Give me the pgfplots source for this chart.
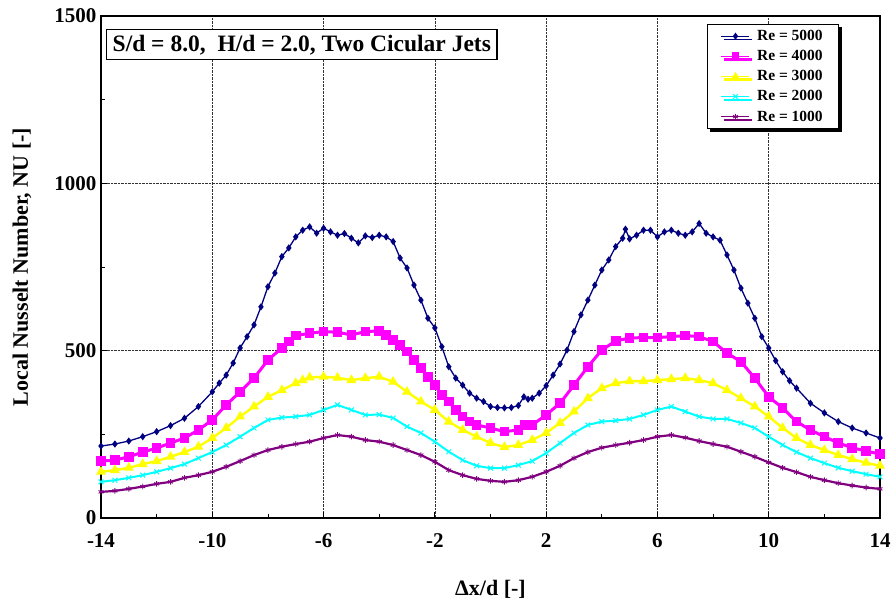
\documentclass[border=0pt]{standalone}
\usepackage{fontspec}
\setmainfont{Liberation Serif}
\usepackage{pgfplots}
\pgfplotsset{compat=1.18}
\usetikzlibrary{shadows}

\definecolor{navy}{RGB}{0,0,128}
\definecolor{mag}{RGB}{255,0,255}
\definecolor{yel}{RGB}{255,255,0}
\definecolor{cya}{RGB}{0,255,255}
\definecolor{pur}{RGB}{128,0,128}

\begin{document}
\begin{tikzpicture}
\begin{axis}[
  at={(0pt,0pt)}, anchor=south west,
  scale only axis, width=779pt, height=502pt,
  xmin=-14, xmax=14, ymin=0, ymax=1500,
  xtick={-14,-10,-6,-2,2,6,10,14}, minor xtick={-12,-8,-4,0,4,8,12},
  ytick={0,500,1000,1500}, minor ytick={250,750,1250},
  tick pos=left, tick align=inside,
  major tick length=6pt, minor tick length=4pt,
  xmajorgrids, ymajorgrids,
  grid style={black!80, densely dotted, line width=0.7pt},
  axis line style={line width=2pt},
  every tick/.style={black, line width=0.8pt},
  tick label style={font=\fontsize{21}{24}\selectfont\bfseries},
  /pgf/number format/assume math mode=true,
  /pgf/number format/1000 sep={},
  scaled y ticks=false,
  xticklabel style={yshift=-12pt},
  yticklabel style={xshift=-1pt},
  xlabel={Δx/d [-]}, ylabel={Local Nusselt Number, NU [-]},
  label style={font=\fontsize{22}{26}\selectfont\bfseries},
  xlabel style={at={(axis description cs:0.5,-0.143)}, anchor=center},
  ylabel style={at={(axis description cs:-0.1014,0.5)}, anchor=center},
  legend cell align=left,
  legend style={at={(0.9474,0.984)}, anchor=north east,
    draw=black, line width=0.6pt, fill=white,
    drop shadow={shadow xshift=3pt, shadow yshift=-3pt, fill=black, opacity=1},
    font=\fontsize{15.5}{17}\selectfont\bfseries,
    inner xsep=14pt, inner ysep=4pt, row sep=4.3pt, column sep=5pt},
  legend image code/.code={\draw[line width=1.2pt, mark repeat=2,mark phase=2] plot coordinates {(0pt,0pt) (14pt,0pt) (28pt,0pt)};},
]
\addplot[navy, line width=1.3pt, mark=diamond*, mark size=2.6pt, mark options={solid}] coordinates {
(-14,215) (-13.5,221) (-13,230) (-12.5,243) (-12,258) (-11.5,276) (-11,298) (-10.5,333)
(-10,377) (-9.75,403) (-9.5,427) (-9.25,463) (-9,508) (-8.75,542) (-8.5,577) (-8.25,631)
(-8,691) (-7.75,732) (-7.5,781) (-7.25,807) (-7,840) (-6.75,860) (-6.5,870) (-6.25,851)
(-6,866) (-5.75,855) (-5.5,845) (-5.25,850) (-5,836) (-4.75,822) (-4.5,843) (-4.25,838)
(-4,845) (-3.75,840) (-3.5,826) (-3.25,777) (-3,747) (-2.75,696) (-2.5,651) (-2.25,597)
(-2,568) (-1.75,512) (-1.5,452) (-1.25,418) (-1,397) (-0.75,373) (-0.5,358) (-0.25,348)
(0,333) (0.25,330) (0.5,329) (0.75,330) (1,336) (1.2,362) (1.35,355) (1.5,358)
(1.75,373) (2,395) (2.25,427) (2.5,460) (2.75,502) (3,557) (3.25,607) (3.5,651)
(3.75,696) (4,741) (4.25,771) (4.5,811) (4.75,836) (4.85,863) (5,834) (5.25,845)
(5.5,860) (5.75,860) (6,840) (6.25,855) (6.5,860) (6.75,851) (7,845) (7.25,855)
(7.5,880) (7.75,851) (8,840) (8.25,830) (8.5,786) (8.75,741) (9,687) (9.25,642)
(9.5,597) (9.75,542) (10,508) (10.25,470) (10.5,437) (10.75,410) (11,388) (11.5,343)
(12,314) (12.5,288) (13,269) (13.5,254) (14,239)
};
\addlegendentry{Re = 5000}
\addplot[mag, line width=3pt, mark=square*, mark size=3.3pt] coordinates {
(-14,170) (-13.5,173) (-13,183) (-12.5,197) (-12,209) (-11.5,224) (-11,239) (-10.5,263)
(-10,293) (-9.5,338) (-9,377) (-8.5,418) (-8,472) (-7.5,508) (-7.25,527) (-7,545)
(-6.5,552) (-6,557) (-5.5,555) (-5,547) (-4.5,557) (-4,559) (-3.75,547) (-3.5,532)
(-3.25,517) (-3,497) (-2.75,472) (-2.5,448) (-2.25,422) (-2,397) (-1.75,367) (-1.5,348)
(-1.25,323) (-1,303) (-0.75,288) (-0.5,278) (0,269) (0.5,258) (1,263) (1.25,278)
(1.5,278) (2,308) (2.5,343) (3,397) (3.5,452) (4,502) (4.5,529) (5,538)
(5.5,539) (6,539) (6.5,542) (7,545) (7.5,542) (8,527) (8.5,493) (9,467)
(9.5,418) (10,362) (10.5,329) (11,288) (11.5,263) (12,243) (12.5,224) (13,210)
(13.5,200) (14,191)
};
\addlegendentry{Re = 4000}
\addplot[yel, line width=2.4pt, mark=triangle*, mark size=3.4pt] coordinates {
(-14,138) (-13.5,143) (-13,150) (-12.5,161) (-12,170) (-11.5,183) (-11,197) (-10.5,213)
(-10,239) (-9.5,269) (-9,303) (-8.5,333) (-8,362) (-7.5,382) (-7,403) (-6.75,412)
(-6.5,420) (-6,422) (-5.5,419) (-5,412) (-4.5,418) (-4,422) (-3.5,407) (-3,377)
(-2.5,348) (-2,323) (-1.5,288) (-1,263) (-0.5,243) (0,224) (0.5,212) (1,218)
(1.5,233) (2,254) (2.5,284) (3,318) (3.5,358) (4,388) (4.5,403) (5,409)
(5.5,409) (6,412) (6.5,415) (7,418) (7.5,412) (8,403) (8.5,382) (9,358)
(9.5,333) (10,303) (10.5,269) (11,239) (11.5,218) (12,203) (12.5,188) (13,176)
(13.5,165) (14,156)
};
\addlegendentry{Re = 3000}
\addplot[cya, line width=2pt, mark=x, mark size=3.4pt, mark options={line width=1pt}] coordinates {
(-14,108) (-13.5,113) (-13,120) (-12.5,128) (-12,138) (-11.5,149) (-11,161) (-10.5,179)
(-10,197) (-9.5,218) (-9,243) (-8.5,269) (-8,293) (-7.5,300) (-7,303) (-6.5,308)
(-6,323) (-5.5,338) (-5,323) (-4.5,308) (-4,309) (-3.5,299) (-3,273) (-2.5,254)
(-2,228) (-1.5,198) (-1,173) (-0.5,156) (0,149) (0.5,149) (1,158) (1.5,170)
(2,194) (2.5,224) (3,254) (3.5,278) (4,288) (4.5,291) (5,296) (5.5,308)
(6,323) (6.5,333) (7,318) (7.5,303) (8,296) (8.5,296) (9,284) (9.5,269)
(10,243) (10.5,218) (11,197) (11.5,179) (12,164) (12.5,150) (13,140) (13.5,131)
(14,123)
};
\addlegendentry{Re = 2000}
\addplot[pur, line width=2.2pt, mark=asterisk, mark size=2.8pt, mark options={line width=0.9pt}] coordinates {
(-14,78) (-13.5,81) (-13,87) (-12.5,94) (-12,102) (-11.5,108) (-11,120) (-10.5,128)
(-10,138) (-9.5,153) (-9,170) (-8.5,188) (-8,203) (-7.5,213) (-7,221) (-6.5,228)
(-6,239) (-5.5,248) (-5,243) (-4.5,233) (-4,228) (-3.5,218) (-3,203) (-2.5,188)
(-2,168) (-1.5,143) (-1,128) (-0.5,117) (0,111) (0.5,108) (1,113) (1.5,123)
(2,138) (2.5,156) (3,179) (3.5,197) (4,210) (4.5,218) (5,225) (5.5,233)
(6,243) (6.5,248) (7,240) (7.5,230) (8,221) (8.5,213) (9,198) (9.5,183)
(10,166) (10.5,150) (11,137) (11.5,123) (12,113) (12.5,104) (13,97) (13.5,91)
(14,87)
};
\addlegendentry{Re = 1000}
\node[draw=black, line width=1.4pt, fill=white, anchor=north west, inner xsep=6pt, inner ysep=5pt,
  font=\fontsize{23.5}{27}\selectfont\bfseries] at (axis cs:-13.82,1461) {S/d = 8.0,\ \ H/d = 2.0, Two Cicular Jets};
\end{axis}
\pgfresetboundingbox
\useasboundingbox (-101pt,-87pt) rectangle (792pt,518pt);
\end{tikzpicture}
\end{document}
